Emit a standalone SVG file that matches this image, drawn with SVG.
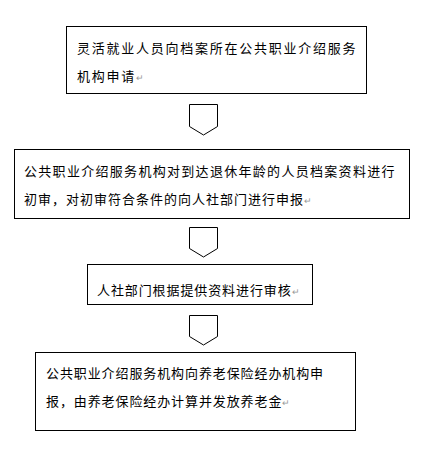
<svg xmlns="http://www.w3.org/2000/svg" width="436" height="455" viewBox="0 0 436 455">
<style>
.box{fill:#fff;stroke:#000;stroke-width:1}
.arr{fill:#fff;stroke:#000;stroke-width:1}
text{font-family:"Noto Sans CJK SC","Noto Sans",sans-serif;font-size:13px;fill:#000}
.pm{fill:#999;font-size:9px;letter-spacing:0}
</style>
<rect width="436" height="455" fill="#fff"/>
<g id="node1">
<rect class="box" x="66.5" y="26.5" width="300" height="67"/>
<text x="77" y="53" style="letter-spacing:1.75px">灵活就业人员向档案所在公共职业介绍服务</text>
<text x="77" y="81" style="letter-spacing:1.75px">机构申请<tspan class="pm">↵</tspan></text>
</g>
<g id="node2">
<rect class="box" x="14.5" y="149.5" width="395" height="69"/>
<text x="24" y="176" style="letter-spacing:1.3px">公共职业介绍服务机构对到达退休年龄的人员档案资料进行</text>
<text x="24" y="204" style="letter-spacing:1px">初审，对初审符合条件的向人社部门进行申报<tspan class="pm">↵</tspan></text>
</g>
<g id="node3">
<rect class="box" x="87.5" y="264.5" width="225" height="40"/>
<text x="97" y="295" style="letter-spacing:0.9px">人社部门根据提供资料进行审核<tspan class="pm">↵</tspan></text>
</g>
<g id="node4">
<rect class="box" x="35.5" y="352.5" width="320" height="78"/>
<text x="46" y="378" style="letter-spacing:0.9px">公共职业介绍服务机构向养老保险经办机构申</text>
<text x="46" y="406" style="letter-spacing:0.9px">报，由养老保险经办计算并发放养老金<tspan class="pm">↵</tspan></text>
</g>
<g id="connectors">
<path class="arr" d="M189.5,104.5 H217.5 V126.5 L203.5,135 L189.5,126.5 Z"/>
<path class="arr" d="M189.5,227.5 H217.5 V248.5 L203.5,257 L189.5,248.5 Z"/>
<path class="arr" d="M189.5,315.5 H217.5 V336.5 L203.5,345 L189.5,336.5 Z"/>
</g>
</svg>
